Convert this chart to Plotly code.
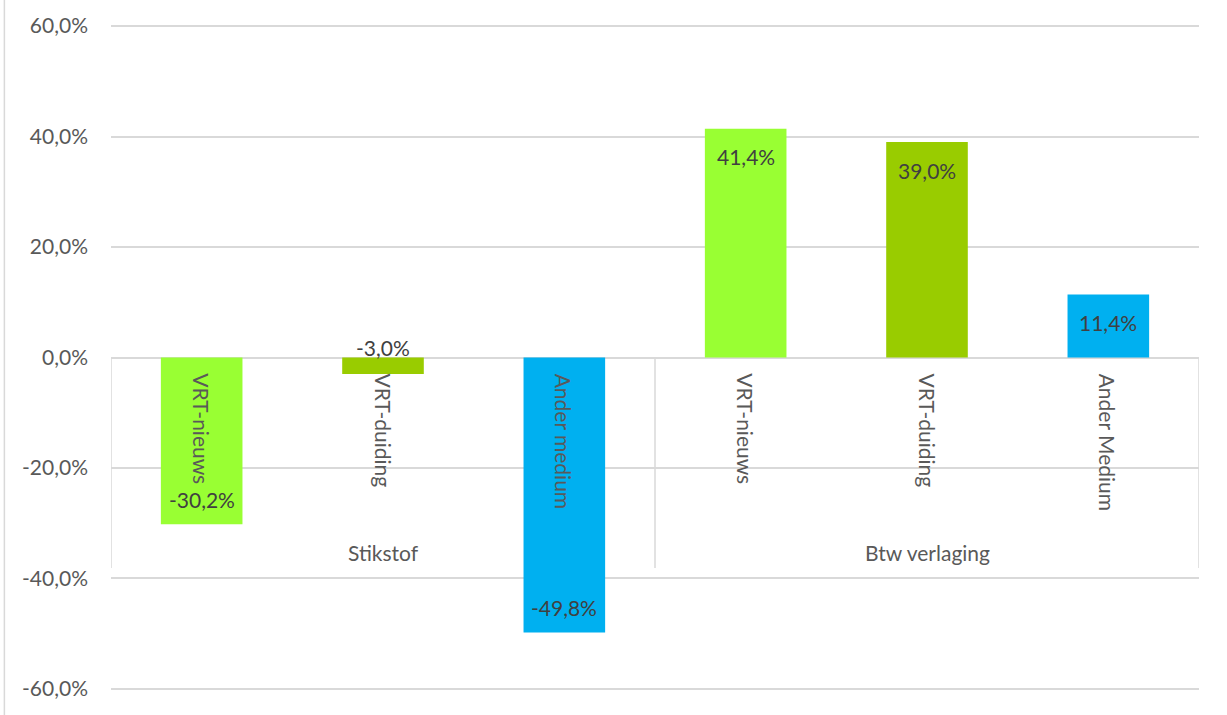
import plotly.graph_objects as go

groups = ["Stikstof", "Btw verlaging"]
categories = ["VRT-nieuws", "VRT-duiding", "Ander medium",
              "VRT-nieuws", "VRT-duiding", "Ander Medium"]
group_of = [0, 0, 0, 1, 1, 1]
values = [-30.2, -3.0, -49.8, 41.4, 39.0, 11.4]
colors = ["#99FF33", "#99CC00", "#00B0F0", "#99FF33", "#99CC00", "#00B0F0"]
y_ticks = [-60, -40, -20, 0, 20, 40, 60]

FONT = "Lato, 'Open Sans', sans-serif"
GRID = "#d9d9d9"
LABEL_GRAY = "#595959"
DATA_GRAY = "#404040"

def fmt(v):
    return f"{v:.1f}".replace(".", ",") + "%"

xs = list(range(len(categories)))

fig = go.Figure()
fig.add_trace(go.Bar(
    x=xs, y=values, marker=dict(color=colors, line=dict(width=0)),
    width=0.45, hoverinfo="skip", showlegend=False,
))

annotations = []
# data labels
for x, v in zip(xs, values):
    if abs(v) < 6:
        yv, shift = 0, 10
    elif v >= 0:
        yv, shift = v, -28
    else:
        yv, shift = v, 25
    annotations.append(dict(
        x=x, y=yv, xref="x", yref="y", text=fmt(v), showarrow=False,
        yshift=shift, xanchor="center", yanchor="middle",
        font=dict(family=FONT, size=21, color=DATA_GRAY),
    ))
# category labels (rotated)
for x, c in zip(xs, categories):
    annotations.append(dict(
        x=x, y=0, xref="x", yref="y", text=c, showarrow=False,
        textangle=90, yshift=-14, xanchor="center", yanchor="top",
        font=dict(family=FONT, size=21, color=LABEL_GRAY),
    ))
# group labels
for gi, g in enumerate(groups):
    idx = [x for x, gg in zip(xs, group_of) if gg == gi]
    annotations.append(dict(
        x=sum(idx) / len(idx), y=0, xref="x", yref="y", text=g,
        showarrow=False, yshift=-195, xanchor="center", yanchor="middle",
        font=dict(family=FONT, size=21, color=LABEL_GRAY),
    ))

shapes = []
# group separators
bounds = [-0.5]
for gi in range(len(groups)):
    idx = [x for x, gg in zip(xs, group_of) if gg == gi]
    bounds.append(max(idx) + 0.5)
for b in bounds:
    shapes.append(dict(type="line", xref="x", yref="y", x0=b, x1=b,
                       y0=0, y1=-38.1, line=dict(color=GRID, width=1.5), layer="below"))
# outer chart border at left
shapes.append(dict(type="line", xref="paper", yref="paper", x0=-0.098, x1=-0.098,
                   y0=-0.05, y1=1.05, line=dict(color=GRID, width=1.5)))

fig.update_layout(
    width=1227, height=715,
    margin=dict(l=111, r=28, t=19, b=25),
    paper_bgcolor="white", plot_bgcolor="white",
    font=dict(family=FONT, size=21, color=LABEL_GRAY),
    xaxis=dict(range=[-0.5, len(categories) - 0.5], showticklabels=False,
               showgrid=False, zeroline=False, showline=False, fixedrange=True),
    yaxis=dict(range=[-60.2, 60.2], tickvals=y_ticks,
               ticktext=[fmt(t) for t in y_ticks],
               showgrid=True, gridcolor=GRID, gridwidth=1.5,
               zeroline=True, zerolinecolor=GRID, zerolinewidth=1.5,
               showline=False, ticks="", ticklabelstandoff=22,
               tickfont=dict(family=FONT, size=21, color=LABEL_GRAY)),
    annotations=annotations, shapes=shapes, bargap=0.55,
)

fig.write_html("out.html", config={"displayModeBar": False},
               post_script="document.body.style.margin='0';document.body.style.overflow='hidden';")
